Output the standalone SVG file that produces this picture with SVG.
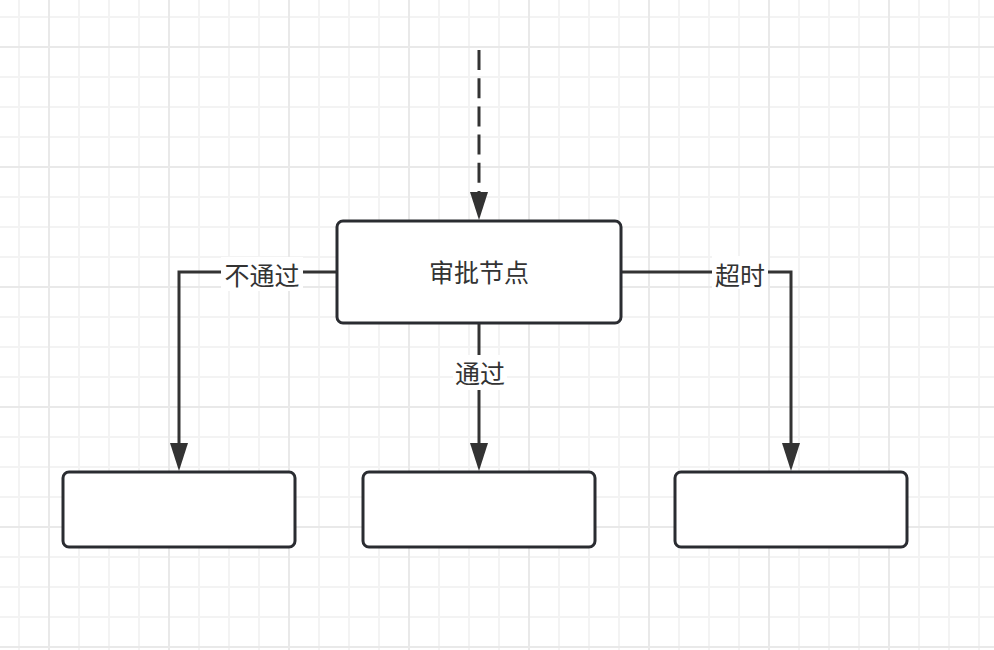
<svg xmlns="http://www.w3.org/2000/svg" width="994" height="650" viewBox="0 0 994 650">
  <style>
    .node { fill: #ffffff; stroke: #2a2c31; stroke-width: 3; }
    .edge { fill: none; stroke: #333333; stroke-width: 3; }
    .dash { stroke-dasharray: 20 8.2; }
    .txt { font-family: "Noto Sans CJK SC", "Noto Sans", sans-serif; font-size: 25px; fill: #333333; text-anchor: middle; dominant-baseline: central; }
    .lblbg { fill: #ffffff; }
  </style>
  <defs>
    <pattern id="grid" patternUnits="userSpaceOnUse" x="4" y="2" width="120" height="120">
      <path d="M15 0V120M75 0V120M105 0V120M0 15H120M0 75H120M0 105H120" stroke="#f3f3f3" stroke-width="2" fill="none"/>
      <path d="M45 0V120M0 45H120" stroke="#e9e9e9" stroke-width="2" fill="none"/>
    </pattern>
    <marker id="arrow" markerUnits="userSpaceOnUse" viewBox="0 0 28 18" refX="0" refY="9" markerWidth="28" markerHeight="18" orient="auto">
      <path d="M0 0L28 9L0 18Z" fill="#333333"/>
    </marker>
  </defs>
  <rect width="994" height="650" fill="#ffffff"/>
  <rect width="994" height="650" fill="url(#grid)"/>

  <g id="connectors">
    <path class="edge dash" d="M479 50V192" marker-end="url(#arrow)"/>
    <path class="edge" d="M337 272H179V443" marker-end="url(#arrow)"/>
    <path class="edge" d="M479 323V443" marker-end="url(#arrow)"/>
    <path class="edge" d="M621 272H791V443" marker-end="url(#arrow)"/>
    <g id="label-reject">
      <rect class="lblbg" x="221" y="257" width="82" height="34"/>
      <text class="txt" x="262" y="273.5">不通过</text>
    </g>
    <g id="label-pass">
      <rect class="lblbg" x="453" y="355" width="54" height="35"/>
      <text class="txt" x="480" y="371.5">通过</text>
    </g>
    <g id="label-timeout">
      <rect class="lblbg" x="712" y="256" width="56" height="33"/>
      <text class="txt" x="740" y="273.5">超时</text>
    </g>
  </g>

  <g id="approval-node">
    <rect class="node" x="337" y="221" width="284" height="102" rx="6"/>
    <text class="txt" x="479" y="270.5">审批节点</text>
  </g>
  <g id="reject-node">
    <rect class="node" x="63" y="472" width="232" height="75" rx="6"/>
  </g>
  <g id="pass-node">
    <rect class="node" x="363" y="472" width="232" height="75" rx="6"/>
  </g>
  <g id="timeout-node">
    <rect class="node" x="675" y="472" width="232" height="75" rx="6"/>
  </g>
</svg>
